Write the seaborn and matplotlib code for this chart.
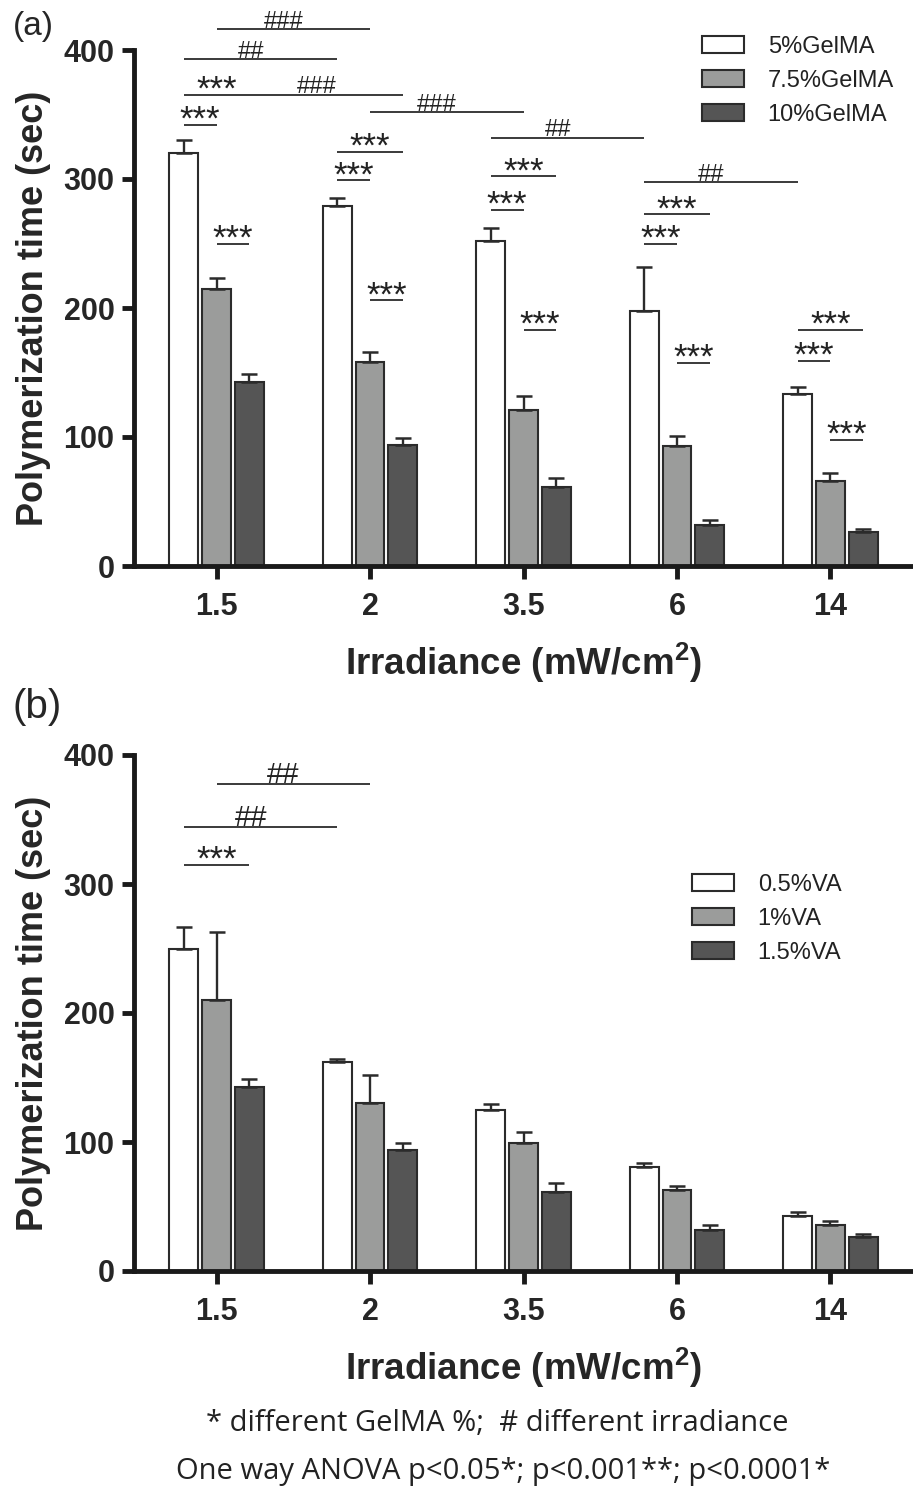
import numpy as np
import pandas as pd
import seaborn as sns
import matplotlib.pyplot as plt
from matplotlib.patches import Patch
from matplotlib.container import BarContainer

# categories
irradiance = ['1.5', '2', '3.5', '6', '14']

# panel (a) - GelMA concentration
gelma_labels = ['5%GelMA', '7.5%GelMA', '10%GelMA']
gelma5_mean = [320, 279, 252, 198, 133]
gelma5_err = [10, 6, 10, 34, 6]
gelma75_mean = [215, 158, 121, 93, 66]
gelma75_err = [8, 8, 11, 8, 6]
gelma10_mean = [143, 94, 61, 32, 26]
gelma10_err = [6, 5, 7, 3.5, 3]

# panel (b) - VA concentration
va_labels = ['0.5%VA', '1%VA', '1.5%VA']
va05_mean = [250, 162, 125, 81, 43]
va05_err = [17, 2.5, 4.5, 3, 3]
va1_mean = [210, 130, 99, 63, 36]
va1_err = [53, 22, 9, 3, 3]
va15_mean = [143, 94, 61, 32, 26]
va15_err = [6, 5, 7, 3.5, 3]

# significance lines: (group, hue) to (group, hue), height, label
sig_a = [
    (0, 1, 1, 1, 416, '###'),
    (0, 0, 1, 0, 393, '##'),
    (0, 0, 0, 2, 365, '***'),
    (0, 2, 1, 2, 365.5, '###'),
    (1, 1, 2, 1, 352, '###'),
    (0, 0, 0, 1, 342, '***'),
    (1, 0, 1, 2, 321, '***'),
    (1, 0, 1, 1, 299, '***'),
    (0, 1, 0, 2, 250, '***'),
    (2, 0, 3, 0, 332, '##'),
    (2, 0, 2, 2, 302, '***'),
    (2, 0, 2, 1, 276, '***'),
    (3, 0, 4, 0, 297.5, '##'),
    (3, 0, 3, 2, 272.6, '***'),
    (3, 0, 3, 1, 250, '***'),
    (1, 1, 1, 2, 206, '***'),
    (2, 1, 2, 2, 183, '***'),
    (3, 1, 3, 2, 157.4, '***'),
    (4, 0, 4, 2, 183, '***'),
    (4, 0, 4, 1, 159.3, '***'),
    (4, 1, 4, 2, 98, '***'),
]
sig_b = [
    (0, 1, 1, 1, 377.6, '##'),
    (0, 0, 1, 0, 344, '##'),
    (0, 0, 0, 2, 314.7, '***'),
]

colors = ['white', '#9b9c9b', '#555555']
edge = '#2b2b2b'
axis_col = '#1a1a1a'

sns.set_style('ticks')
plt.rcParams['font.family'] = ['Liberation Sans', 'DejaVu Sans']
plt.rcParams['mathtext.fontset'] = 'custom'
plt.rcParams['mathtext.bf'] = 'Liberation Sans:bold'
plt.rcParams['mathtext.rm'] = 'Liberation Sans'


def make_df(labels, means):
    rows = []
    for lab, m in zip(labels, means):
        for x, v in zip(irradiance, m):
            rows.append({'irradiance': x, 'group': lab, 'time': v})
    return pd.DataFrame(rows)


def draw_panel(ax, df, labels, errs, sig, hash_size):
    sns.barplot(data=df, x='irradiance', y='time', hue='group', order=irradiance,
                hue_order=labels, palette=colors, width=0.64, gap=0.12,
                edgecolor=edge, linewidth=1.5, errorbar=None, legend=False, ax=ax)
    bars = [c for c in ax.containers if isinstance(c, BarContainer)]
    centers = [[b.get_x() + b.get_width() / 2 for b in c] for c in bars]
    for c, e in zip(bars, errs):
        xs = [b.get_x() + b.get_width() / 2 for b in c]
        hs = [b.get_height() for b in c]
        ax.errorbar(xs, hs, yerr=[np.zeros(len(e)), e], fmt='none', ecolor=edge,
                    elinewidth=1.7, capsize=5.5, capthick=1.8, zorder=3)

    for g1, h1, g2, h2, y, lab in sig:
        x1 = centers[h1][g1]
        x2 = centers[h2][g2]
        ax.plot([x1, x2], [y, y], color=edge, lw=1.3, clip_on=False,
                solid_capstyle='butt')
        xm = (x1 + x2) / 2
        if lab.startswith('*'):
            ax.annotate(lab, (xm, y), xytext=(0, -3.5), textcoords='offset points',
                        ha='center', va='baseline', fontsize=25, color='#222222',
                        annotation_clip=False)
        else:
            ax.annotate(lab, (xm, y), xytext=(-7, 1.0), textcoords='offset points',
                        ha='center', va='baseline', fontsize=hash_size, color='#222222',
                        annotation_clip=False)

    ax.set_ylim(0, 400)
    ax.set_yticks([0, 100, 200, 300, 400])
    ax.set_xlabel(r'Irradiance (mW/cm$\mathbf{^2}$)', fontsize=26.5,
                  fontweight='bold', labelpad=13)
    ax.set_ylabel('Polymerization time (sec)', fontsize=26, fontweight='bold',
                  labelpad=9)
    sns.despine(ax=ax)
    for s in ['left', 'bottom']:
        ax.spines[s].set_linewidth(3.5)
        ax.spines[s].set_color(axis_col)
    ax.tick_params(width=3.5, length=9, labelsize=22, color=axis_col)
    ax.tick_params(axis='y', pad=5)
    ax.tick_params(axis='x', pad=10)
    for t in ax.get_xticklabels() + ax.get_yticklabels():
        t.set_fontweight('bold')

    handles = [Patch(facecolor=col, edgecolor=edge, linewidth=1.5, label=lab)
               for col, lab in zip(colors, labels)]
    return handles


fig = plt.figure(figsize=(9.13, 14.94), dpi=100)
W, H = 913, 1494
ax_a = fig.add_axes([134 / W, 1 - 566 / H, 779 / W, 516 / H])
ax_b = fig.add_axes([134 / W, 1 - 1271 / H, 779 / W, 516 / H])

h_a = draw_panel(ax_a, make_df(gelma_labels, [gelma5_mean, gelma75_mean, gelma10_mean]),
                 gelma_labels, [gelma5_err, gelma75_err, gelma10_err], sig_a, 17)
h_b = draw_panel(ax_b, make_df(va_labels, [va05_mean, va1_mean, va15_mean]),
                 va_labels, [va05_err, va1_err, va15_err], sig_b, 21)

leg_kw = dict(loc='upper left', bbox_transform=fig.transFigure, frameon=False,
              fontsize=17, handlelength=1.78, handleheight=0.72, handletextpad=1.0,
              labelspacing=0.5, borderpad=0, borderaxespad=0)
leg_a = ax_a.legend(handles=h_a, bbox_to_anchor=(702 / W, 1 - 36 / H), **leg_kw)
leg_b = ax_b.legend(handles=h_b, bbox_to_anchor=(692 / W, 1 - 874 / H), **leg_kw)
for leg in (leg_a, leg_b):
    for t in leg.get_texts():
        t.set_color('#222222')

fig.text(13 / W, 1 - 27 / H, '(a)', fontsize=24, va='center', ha='left')
fig.text(12 / W, 1 - 707 / H, '(b)', fontsize=29, va='center', ha='left')

fig.text(497 / W, 1 - 1431 / H, '* different GelMA %;  # different irradiance',
         fontsize=21, family=['Open Sans', 'DejaVu Sans'], ha='center', va='baseline',
         color='#222222')
fig.text(503 / W, 1 - 1479 / H, 'One way ANOVA p<0.05*; p<0.001**; p<0.0001*',
         fontsize=21, family=['Open Sans', 'DejaVu Sans'], ha='center', va='baseline',
         color='#222222')

fig.savefig('out.png', dpi=100)
